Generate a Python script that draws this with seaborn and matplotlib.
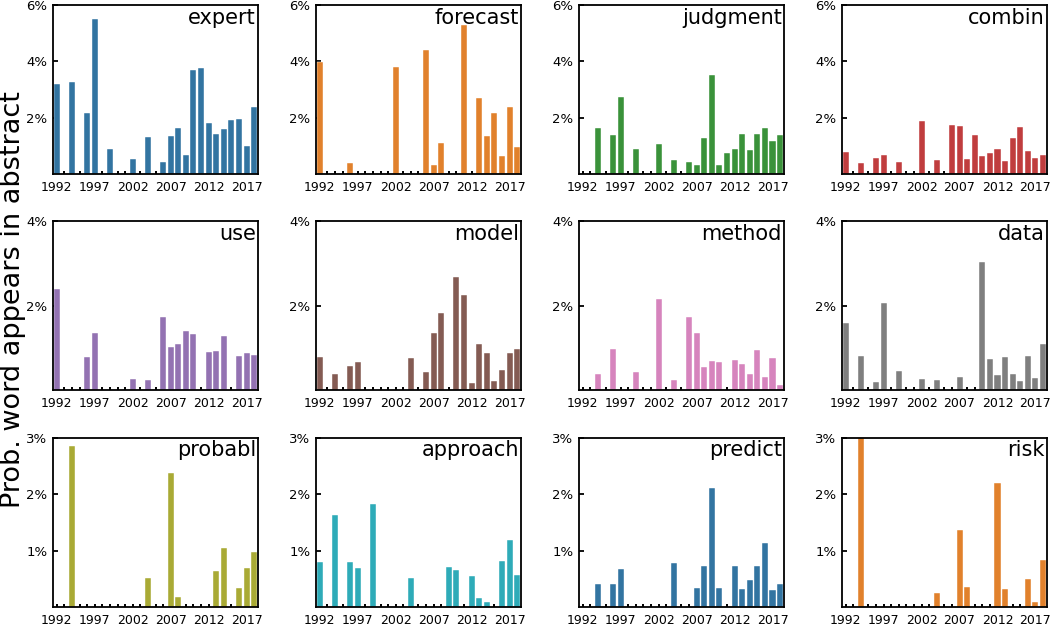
import numpy as np
import pandas as pd
import seaborn as sns
from matplotlib import pyplot as plt

years = list(range(1992, 2019))

words = ["expert", "forecast", "judgment", "combin",
         "use", "model", "method", "data",
         "probabl", "approach", "predict", "risk"]

# percent of abstracts, one value per year 1992..2018 (0 = no bar)
expert = [3.18, 0, 3.27, 0, 2.17, 5.50, 0, 0.89, 0, 0, 0.52, 0, 1.30, 0, 0.42, 1.35,
          1.64, 0.69, 3.69, 3.77, 1.82, 1.42, 1.60, 1.92, 1.96, 0.99, 2.37]
forecast = [3.99, 0, 0, 0, 0.38, 0, 0, 0, 0, 0, 3.80, 0, 0, 0, 4.40, 0.33,
            1.10, 0, 0, 5.29, 0, 2.70, 1.36, 2.15, 0.65, 2.37, 0.96]
judgment = [0, 0, 1.63, 0, 1.37, 2.74, 0, 0.89, 0, 0, 1.07, 0, 0.50, 0, 0.43, 0.32,
            1.27, 3.52, 0.32, 0.74, 0.89, 1.42, 0.87, 1.42, 1.63, 1.17, 1.37]
combin = [0.77, 0, 0.39, 0, 0.58, 0.67, 0, 0.44, 0, 0, 1.89, 0, 0.50, 0, 1.75, 1.69,
          0.54, 1.40, 0.65, 0.74, 0.90, 0.46, 1.27, 1.68, 0.81, 0.58, 0.68]
use = [2.40, 0, 0, 0, 0.79, 1.37, 0, 0, 0, 0, 0.26, 0, 0.25, 0, 1.75, 1.02,
       1.10, 1.40, 1.34, 0, 0.91, 0.94, 1.28, 0, 0.82, 0.88, 0.83]
model = [0.79, 0, 0.40, 0, 0.59, 0.67, 0, 0, 0, 0, 0, 0, 0.78, 0, 0.44, 1.36,
         1.84, 0, 2.69, 2.27, 0.18, 1.11, 0.88, 0.23, 0.48, 0.88, 0.97]
method = [0, 0, 0.40, 0, 0.98, 0, 0, 0.44, 0, 0, 2.17, 0, 0.25, 0, 1.75, 1.36,
          0.55, 0.70, 0.67, 0, 0.72, 0.63, 0.40, 0.96, 0.32, 0.78, 0.13]
data = [1.60, 0, 0.82, 0, 0.19, 2.06, 0, 0.45, 0, 0, 0.26, 0, 0.25, 0, 0, 0.33,
        0, 0, 3.03, 0.75, 0.36, 0.79, 0.40, 0.23, 0.82, 0.29, 1.11]
probabl = [0, 0, 2.86, 0, 0, 0, 0, 0, 0, 0, 0, 0, 0.51, 0, 0, 2.38,
           0.18, 0, 0, 0, 0, 0.63, 1.04, 0, 0.33, 0.69, 0.97]
approach = [0.79, 0, 1.63, 0, 0.79, 0.69, 0, 1.83, 0, 0, 0, 0, 0.51, 0, 0, 0,
            0, 0.70, 0.66, 0, 0.54, 0.15, 0.08, 0, 0.81, 1.18, 0.56]
predict = [0, 0, 0.41, 0, 0.40, 0.68, 0, 0, 0, 0, 0, 0, 0.78, 0, 0, 0.34,
           0.73, 2.11, 0.33, 0, 0.73, 0.31, 0.48, 0.72, 1.14, 0.30, 0.41]
risk = [0, 0, 3.0, 0, 0, 0, 0, 0, 0, 0, 0, 0, 0.25, 0, 0, 1.36,
        0.36, 0, 0, 0, 2.19, 0.31, 0, 0, 0.49, 0.09, 0.83]

series = [expert, forecast, judgment, combin, use, model, method, data,
          probabl, approach, predict, risk]

colors = ["#1f77b4", "#ff7f0e", "#2ca02c", "#d62728", "#9467bd", "#8c564b",
          "#e377c2", "#7f7f7f", "#bcbd22", "#17becf", "#1f77b4", "#ff7f0e"]

row_ymax = [6, 4, 3]
row_ticks = [[2, 4, 6], [2, 4], [1, 2, 3]]

sns.set_style("white")
plt.rcParams["font.family"] = ["DejaVu Sans"]
plt.rcParams["axes.edgecolor"] = "black"
plt.rcParams["axes.linewidth"] = 1.3
plt.rcParams["text.color"] = "black"

fig, axes = plt.subplots(3, 4, figsize=(10.5, 6.25), dpi=100)
fig.subplots_adjust(left=0.0505, right=0.997, top=0.992, bottom=0.029,
                    wspace=0.283, hspace=0.28)

for k, (word, vals) in enumerate(zip(words, series)):
    ax = axes[k // 4][k % 4]
    row = k // 4
    df = pd.DataFrame({"year": [str(y) for y in years],
                       "value": [v if v > 0 else np.nan for v in vals]})
    sns.barplot(data=df, x="year", y="value", order=[str(y) for y in years],
                color=colors[k], ax=ax, errorbar=None,
                edgecolor="white", linewidth=0.3)
    ax.set_xlim(-0.5, len(years) - 0.5)
    ax.set_ylim(0, row_ymax[row])
    ax.set_yticks(row_ticks[row])
    ax.set_yticklabels([f"{t}%" for t in row_ticks[row]], fontsize=9.5)
    ax.set_xticks(range(len(years)))
    ax.set_xticklabels([str(y) if (y - 1992) % 5 == 0 else "" for y in years],
                       fontsize=9)
    ax.tick_params(axis="x", bottom=True, direction="in", length=2.2, width=1.4,
                   pad=5, colors="black")
    ax.tick_params(axis="y", left=True, direction="in", length=3.5, width=1.3,
                   pad=4, colors="black")
    ax.set_xlabel("")
    ax.set_ylabel("")
    ax.text(0.99, 0.985, word, ha="right", va="top", fontsize=15,
            transform=ax.transAxes)

fig.text(0.012, 0.52, "Prob. word appears in abstract", rotation=90,
         ha="center", va="center", fontsize=19.5)

plt.savefig("out.png", dpi=100)
